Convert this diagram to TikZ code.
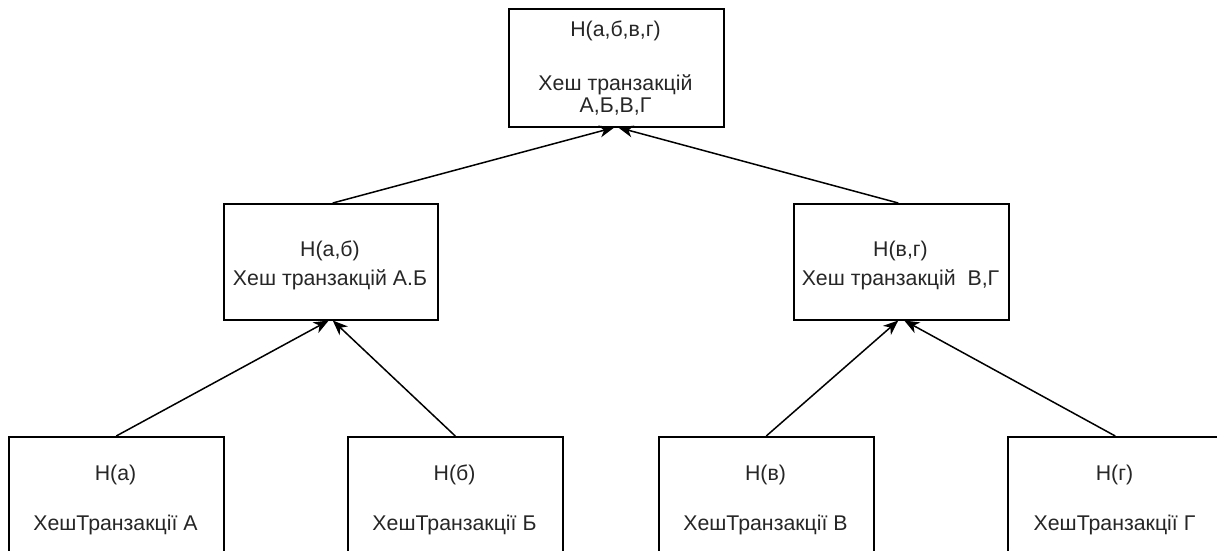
\documentclass[tikz,border=0pt]{standalone}
\usepackage{fontspec}
\setmainfont{Liberation Sans}
\usetikzlibrary{arrows.meta}
\begin{document}
\begin{tikzpicture}[x=1pt,y=-1pt,
  box/.style={draw, line width=1.5pt, inner sep=0pt, anchor=north west, minimum width=215pt},
  txt/.style={anchor=base, inner sep=0pt, text=black!85, font=\fontsize{21.3}{25}\selectfont},
  conn/.style={line width=1.5pt, -{Stealth[length=15pt,width=12pt,inset=4.5pt]}}]
\clip (0,0) rectangle (1217,550);
\fill[white] (0,0) rectangle (1217,550);
% boxes
\node[box, minimum height=118pt] (top) at (508,8) {};
\node[box, minimum width=214pt, minimum height=116pt] (ml) at (223,203) {};
\node[box, minimum height=116pt] (mr) at (793,203) {};
\node[box, minimum height=130pt] (b1) at (8,436) {};
\node[box, minimum height=130pt] (b2) at (347,436) {};
\node[box, minimum height=130pt] (b3) at (658,436) {};
\node[box, minimum height=130pt] (b4) at (1007,436) {};
% texts
\node[txt] (t1) at (615.5,36) {H(а,б,в,г)};
\node[txt] (t2) at (615.5,90) {Хеш транзакцій};
\node[txt] (t3) at (615.5,112) {А,Б,В,Г};
\node[txt] (ml1) at (330,256) {H(а,б)};
\node[txt] (ml2) at (330,285) {Хеш транзакцій А.Б};
\node[txt] (mr1) at (900.5,256) {H(в,г)};
\node[txt] (mr2) at (900.5,285) {Хеш транзакцій\ \ В,Г};
\node[txt] (b1a) at (115.5,480) {H(а)};
\node[txt] (b1b) at (115.5,530) {ХешТранзакції А};
\node[txt] (b2a) at (454.5,480) {H(б)};
\node[txt] (b2b) at (454.5,530) {ХешТранзакції Б};
\node[txt] (b3a) at (765.5,480) {H(в)};
\node[txt] (b3b) at (765.5,530) {ХешТранзакції В};
\node[txt] (b4a) at (1114.5,480) {H(г)};
\node[txt] (b4b) at (1114.5,530) {ХешТранзакції Г};
% connectors
\draw[conn] (b1.north) -- ([xshift=-2pt]ml.south);
\draw[conn] (b2.north) -- ([xshift=2pt]ml.south);
\draw[conn] (b3.north) -- ([xshift=-3pt]mr.south);
\draw[conn] (b4.north) -- ([xshift=3pt]mr.south);
\draw[conn] ([xshift=2pt]ml.north) -- ([xshift=-2pt]top.south);
\draw[conn] ([xshift=-3pt]mr.north) -- ([xshift=2pt]top.south);
\end{tikzpicture}
\end{document}
